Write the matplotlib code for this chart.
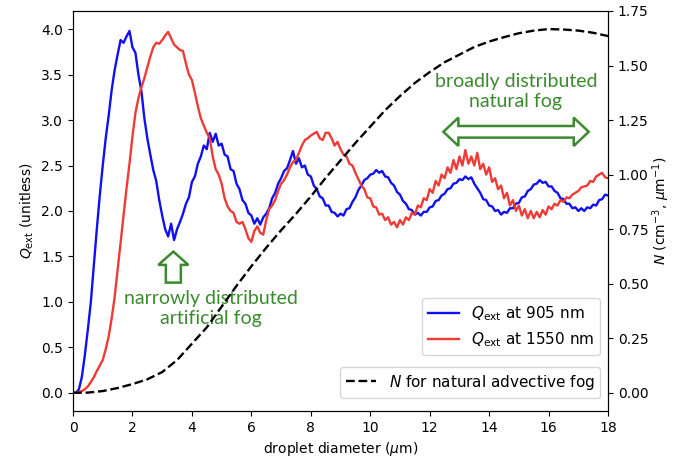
import matplotlib
matplotlib.use('Agg')
import matplotlib.pyplot as plt
import numpy as np
from matplotlib.patches import Polygon

# droplet diameter grid (um), 0.1 um steps
d = np.linspace(0, 18, 181)

q_905 = [0.00, 0.00, 0.04, 0.18, 0.42, 0.70, 1.00, 1.40, 1.80, 2.17,
         2.50, 2.80, 3.05, 3.33, 3.55, 3.72, 3.88, 3.85, 3.92, 3.98,
         3.80, 3.74, 3.50, 3.32, 3.02, 2.80, 2.62, 2.45, 2.33, 2.12,
         1.95, 1.80, 1.72, 1.86, 1.68, 1.80, 1.88, 1.97, 2.08, 2.15,
         2.32, 2.38, 2.52, 2.60, 2.72, 2.68, 2.86, 2.76, 2.85, 2.72,
         2.74, 2.62, 2.60, 2.46, 2.44, 2.30, 2.24, 2.12, 2.08, 1.98,
         1.95, 1.86, 1.92, 1.85, 1.93, 1.97, 2.03, 2.14, 2.20, 2.30,
         2.36, 2.44, 2.47, 2.56, 2.66, 2.52, 2.58, 2.48, 2.50, 2.40,
         2.38, 2.28, 2.24, 2.16, 2.14, 2.06, 2.06, 1.99, 1.98, 1.94,
         1.97, 1.95, 2.02, 2.03, 2.10, 2.15, 2.23, 2.28, 2.34, 2.36,
         2.40, 2.41, 2.45, 2.42, 2.44, 2.38, 2.37, 2.31, 2.28, 2.21,
         2.18, 2.11, 2.08, 2.02, 2.01, 1.96, 1.98, 1.95, 1.99, 1.99,
         2.04, 2.05, 2.11, 2.12, 2.17, 2.19, 2.24, 2.25, 2.30, 2.31,
         2.35, 2.34, 2.38, 2.35, 2.37, 2.30, 2.25, 2.20, 2.13, 2.12,
         2.06, 2.05, 2.00, 2.01, 1.96, 1.99, 1.98, 2.03, 2.03, 2.08,
         2.09, 2.15, 2.16, 2.22, 2.24, 2.29, 2.30, 2.34, 2.31, 2.32,
         2.27, 2.27, 2.22, 2.20, 2.14, 2.13, 2.08, 2.08, 2.03, 2.04,
         2.00, 2.03, 2.00, 2.04, 2.03, 2.07, 2.06, 2.12, 2.13, 2.18,
         2.17]

q_1550 = [0.00, 0.00, 0.01, 0.02, 0.04, 0.07, 0.12, 0.17, 0.24, 0.30,
          0.36, 0.48, 0.62, 0.82, 1.05, 1.35, 1.65, 1.95, 2.25, 2.52,
          2.82, 3.08, 3.24, 3.36, 3.46, 3.58, 3.70, 3.80, 3.85, 3.84,
          3.88, 3.93, 3.97, 3.90, 3.83, 3.80, 3.77, 3.76, 3.62, 3.50,
          3.44, 3.30, 3.15, 3.02, 2.94, 2.86, 2.80, 2.60, 2.46, 2.40,
          2.30, 2.14, 2.05, 2.00, 1.98, 1.88, 1.86, 1.88, 1.80, 1.70,
          1.66, 1.78, 1.83, 1.76, 1.74, 1.90, 2.02, 2.06, 2.12, 2.22,
          2.30, 2.34, 2.40, 2.48, 2.54, 2.56, 2.64, 2.72, 2.78, 2.80,
          2.83, 2.85, 2.87, 2.80, 2.78, 2.86, 2.86, 2.80, 2.72, 2.76,
          2.68, 2.62, 2.60, 2.52, 2.50, 2.42, 2.35, 2.28, 2.24, 2.15,
          2.14, 2.05, 2.04, 1.96, 1.97, 1.90, 1.93, 1.85, 1.88, 1.82,
          1.90, 1.85, 1.93, 1.90, 1.98, 1.96, 2.06, 2.04, 2.14, 2.12,
          2.24, 2.20, 2.33, 2.28, 2.40, 2.36, 2.48, 2.42, 2.56, 2.46,
          2.60, 2.50, 2.67, 2.52, 2.60, 2.50, 2.64, 2.46, 2.52, 2.40,
          2.48, 2.32, 2.36, 2.24, 2.28, 2.14, 2.20, 2.06, 2.12, 2.00,
          2.06, 1.95, 2.02, 1.92, 2.00, 1.92, 1.99, 1.93, 2.01, 1.96,
          2.05, 2.02, 2.08, 2.06, 2.12, 2.10, 2.15, 2.14, 2.18, 2.20,
          2.22, 2.26, 2.27, 2.28, 2.33, 2.32, 2.38, 2.40, 2.42, 2.37,
          2.36]

# natural advective fog size distribution, 0.5 um steps
d_n = np.linspace(0, 18, 37)
n_fog = [0.000, 0.001, 0.008, 0.022, 0.040, 0.062, 0.095, 0.150, 0.225, 0.300,
         0.395, 0.490, 0.580, 0.665, 0.745, 0.820, 0.900, 0.985, 1.065, 1.145,
         1.220, 1.295, 1.360, 1.420, 1.470, 1.515, 1.550, 1.585, 1.610, 1.630,
         1.648, 1.660, 1.667, 1.665, 1.660, 1.650, 1.635]

green = '#3b8a2e'

fig = plt.figure(figsize=(6.73, 4.59), dpi=100)
ax = fig.add_axes([0.1085, 0.1046, 0.795, 0.8715])
l1, = ax.plot(d, q_905, color='#1010f0', lw=1.7, label=r'$Q_\mathrm{ext}$ at 905 nm')
l2, = ax.plot(d, q_1550, color='#ee3b36', lw=1.7, label=r'$Q_\mathrm{ext}$ at 1550 nm')
ax.set_xlim(0, 18)
ax.set_ylim(-0.2, 4.2)
ax.set_xticks(range(0, 19, 2))
ax.set_xlabel(r'droplet diameter ($\mu$m)')
ax.set_ylabel(r'$Q_\mathrm{ext}$ (unitless)')

ax2 = ax.twinx()
l3, = ax2.plot(d_n, n_fog, color='black', ls='--', lw=1.7, label=r'$N$ for natural advective fog')
ax2.set_ylim(-0.0833, 1.75)
ax2.set_ylabel(r'$N$ (cm$^{-3}$, $\mu$m$^{-1}$)', labelpad=1)

leg1 = ax2.legend(handles=[l1, l2], loc='lower right', bbox_to_anchor=(1.0, 0.12), fontsize=11)
ax2.add_artist(leg1)
ax2.legend(handles=[l3], loc='lower right', bbox_to_anchor=(1.0, 0.0135), fontsize=11)

# annotations
ax.text(4.64, 0.93, 'narrowly distributed\nartificial fog', color=green, fontsize=14,
        family='Lato', ha='center', va='center', linespacing=1.2,
        bbox=dict(facecolor='white', edgecolor='none', alpha=0.75, pad=0))
ax.text(14.9, 3.31, 'broadly distributed\nnatural fog', color=green, fontsize=14,
        family='Lato', ha='center', va='center', linespacing=1.2)

# hollow double arrow
xl, xr, yc = 12.46, 17.35, 2.871
hl, hh, bh = 0.505, 0.156, 0.064
ax.add_patch(Polygon([(xl, yc), (xl + hl, yc + hh), (xl + hl, yc + bh), (xr - hl, yc + bh),
                      (xr - hl, yc + hh), (xr, yc), (xr - hl, yc - hh), (xr - hl, yc - bh),
                      (xl + hl, yc - bh), (xl + hl, yc - hh)],
                     closed=True, facecolor='white', edgecolor=green, lw=1.8, zorder=5))
# hollow up arrow
xc, yb, yh, yt = 3.375, 1.212, 1.407, 1.553
hw, bw = 0.505, 0.252
ax.add_patch(Polygon([(xc - bw, yb), (xc + bw, yb), (xc + bw, yh), (xc + hw, yh), (xc, yt),
                      (xc - hw, yh), (xc - bw, yh)],
                     closed=True, facecolor='white', edgecolor=green, lw=1.8, zorder=5))

fig.savefig('out.png', dpi=100)
